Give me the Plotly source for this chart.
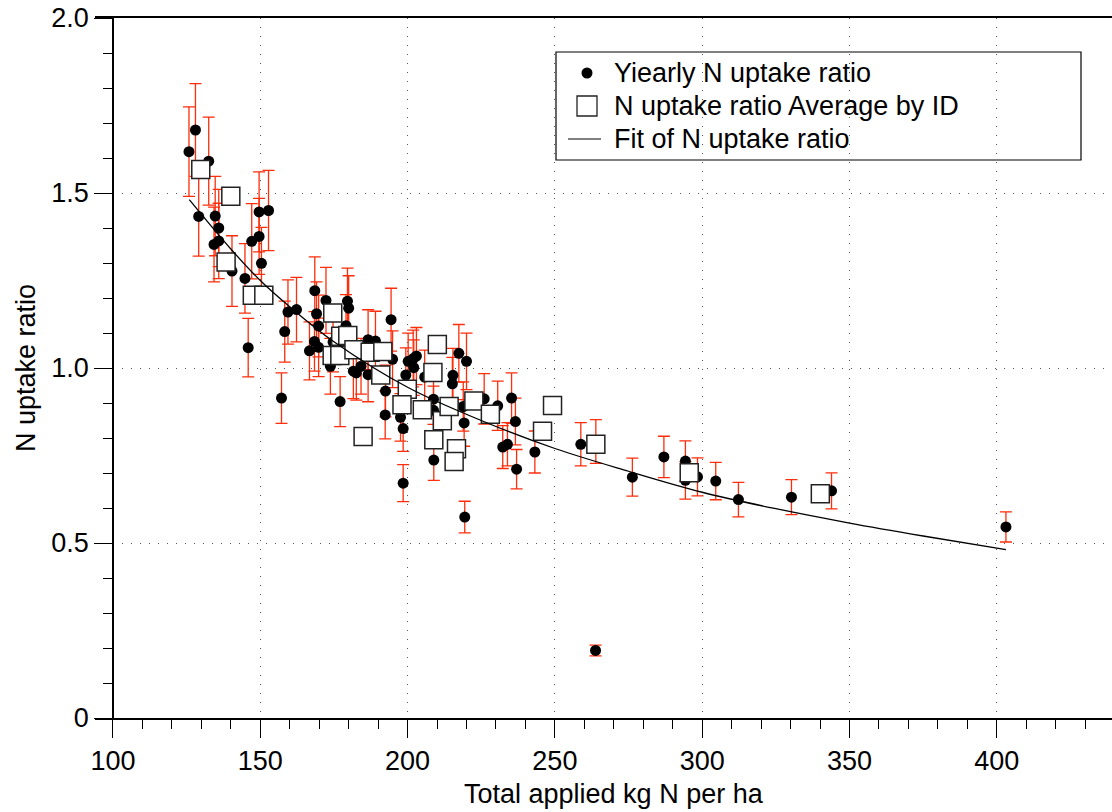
import plotly.graph_objects as go

# Yearly N uptake ratio (circles, with ~7.9% error bars)
yearly_x = [125.8, 128.0, 132.5, 129.1, 134.7, 135.9, 134.3, 135.9, 140.4, 144.8,
            149.6, 152.8, 147.1, 149.6, 150.4, 145.9, 158.3, 159.4, 162.3, 157.2,
            168.5, 172.3, 169.1, 169.8, 168.4, 169.8, 166.7, 179.6, 180.0, 179.1,
            174.7, 173.8, 181.6, 182.6, 184.2, 186.6, 177.1, 194.4, 194.9, 189.1,
            186.6, 192.5, 192.4, 197.6, 198.5, 198.5, 199.4, 200.2, 201.9, 203.0,
            202.1, 205.8, 208.8, 208.8, 208.9, 215.4, 215.2, 217.4, 220.0, 219.2,
            219.4, 218.9, 226.0, 230.6, 235.3, 236.6, 232.3, 233.9, 237.0, 243.2,
            258.8, 263.9, 263.8, 276.3, 287.0, 294.3, 294.3, 298.4, 304.6, 312.3,
            330.3, 343.9, 403.1]
yearly_y = [1.618, 1.680, 1.591, 1.433, 1.434, 1.400, 1.353, 1.363, 1.277, 1.256,
            1.446, 1.450, 1.362, 1.376, 1.299, 1.058, 1.104, 1.160, 1.167, 0.914,
            1.221, 1.193, 1.155, 1.120, 1.076, 1.059, 1.049, 1.191, 1.171, 1.121,
            1.074, 1.005, 0.991, 0.986, 1.005, 0.981, 0.904, 1.138, 1.025, 1.077,
            1.081, 0.934, 0.866, 0.859, 0.827, 0.671, 0.980, 1.019, 1.027, 1.034,
            1.001, 0.974, 0.911, 0.879, 0.737, 0.979, 0.955, 1.042, 1.019, 0.843,
            0.574, 0.890, 0.912, 0.892, 0.914, 0.847, 0.774, 0.782, 0.711, 0.760,
            0.782, 0.790, 0.193, 0.688, 0.746, 0.734, 0.679, 0.689, 0.677, 0.624,
            0.631, 0.649, 0.546]
error_percent = 7.9

# Average by ID (open squares)
avg_x = [129.8, 140.0, 138.4, 147.3, 151.2, 174.6, 177.3, 179.7, 174.4, 177.0,
         181.8, 187.3, 191.6, 190.9, 184.9, 199.9, 198.1, 205.0, 208.6, 210.1,
         211.8, 214.1, 208.9, 216.6, 215.8, 222.5, 228.1, 245.8, 249.2, 263.9,
         295.6, 340.1]
avg_y = [1.567, 1.491, 1.303, 1.208, 1.208, 1.157, 1.091, 1.093, 1.036, 1.036,
         1.052, 1.045, 1.047, 0.980, 0.804, 0.939, 0.895, 0.881, 0.987, 1.067,
         0.849, 0.890, 0.795, 0.769, 0.733, 0.906, 0.868, 0.819, 0.893, 0.782,
         0.701, 0.641]

# Fit curve
fit_x = [125.9, 140, 150, 160, 175, 200, 225, 250, 275, 300, 325, 350, 375, 403.1]
fit_y = [1.481, 1.340, 1.250, 1.175, 1.075, 0.945, 0.850, 0.770, 0.705, 0.645,
         0.598, 0.557, 0.520, 0.481]

series_names = ["Yiearly N uptake ratio", "N uptake ratio Average by ID",
                "Fit of N uptake ratio"]

x_tickvals = [100, 150, 200, 250, 300, 350, 400]
x_ticktext = ["100", "150", "200", "250", "300", "350", "400"]
y_tickvals = [0, 0.5, 1.0, 1.5, 2.0]
y_ticktext = ["0", "0.5", "1.0", "1.5", "2.0"]

FONT = "Liberation Sans, Arial, Helvetica, sans-serif"
FS = 27
XMIN, XMAX = 93.9, 439.1
W, H = 1112, 812
ML, MR, MT, MB = 95, 0, 18, 94
PW, PH = W - ML - MR, H - MT - MB


def px(xp):
    return (xp - ML) / PW


def py(yp):
    return 1 - (yp - MT) / PH


fig = go.Figure()
fig.add_trace(go.Scatter(
    x=yearly_x, y=yearly_y, mode="markers", name=series_names[0],
    marker=dict(symbol="circle", size=11, color="black"),
    error_y=dict(type="percent", value=error_percent, color="rgb(255,45,10)",
                 thickness=1.3, width=6),
))
fig.add_trace(go.Scatter(
    x=avg_x, y=avg_y, mode="markers", name=series_names[1],
    marker=dict(symbol="square", size=18, color="white",
                line=dict(color="#222", width=1.5)),
))
fig.add_trace(go.Scatter(
    x=fit_x, y=fit_y, mode="lines", name=series_names[2],
    line=dict(color="black", width=1.3, shape="spline"),
))

# legend drawn by hand (box, symbols, labels) to match the compact spacing
box_l, box_t, box_r, box_b = 556, 52, 1081, 160
row_y = [73, 106, 139]
sym_x = 587
text_x = 612
shapes = [
    dict(type="rect", xref="paper", yref="paper",
         x0=px(box_l), x1=px(box_r), y0=py(box_b), y1=py(box_t),
         line=dict(color="black", width=1.2), fillcolor="rgba(0,0,0,0)",
         layer="above"),
    dict(type="circle", xref="paper", yref="paper",
         x0=px(sym_x - 5.5), x1=px(sym_x + 5.5),
         y0=py(row_y[0] + 5.5), y1=py(row_y[0] - 5.5),
         line=dict(color="black", width=0), fillcolor="black", layer="above"),
    dict(type="rect", xref="paper", yref="paper",
         x0=px(sym_x - 10), x1=px(sym_x + 10),
         y0=py(row_y[1] + 10), y1=py(row_y[1] - 10),
         line=dict(color="#222", width=1.3), fillcolor="white", layer="above"),
    dict(type="line", xref="paper", yref="paper",
         x0=px(568), x1=px(601), y0=py(row_y[2]), y1=py(row_y[2]),
         line=dict(color="black", width=1.2), layer="above"),
]
annotations = [
    dict(text="Total applied kg N per ha", xref="paper", yref="paper",
         x=px(614), y=py(794), xanchor="center", yanchor="middle",
         showarrow=False, font=dict(size=FS)),
    dict(text="N uptake ratio", xref="paper", yref="paper",
         x=px(26), y=0.5, xanchor="center", yanchor="middle",
         textangle=-90, showarrow=False, font=dict(size=FS)),
]
for name, ry in zip(series_names, row_y):
    annotations.append(dict(text=name, xref="paper", yref="paper",
                            x=px(text_x), y=py(ry), xanchor="left",
                            yanchor="middle", showarrow=False,
                            font=dict(size=FS)))

fig.update_layout(
    width=W, height=H,
    margin=dict(l=ML, r=MR, t=MT, b=MB),
    paper_bgcolor="white", plot_bgcolor="white",
    font=dict(family=FONT, size=FS, color="black"),
    showlegend=False,
    xaxis=dict(range=[XMIN, XMAX], tickvals=x_tickvals, ticktext=x_ticktext,
               ticks="outside", ticklen=18, tickwidth=1.3, tickcolor="black",
               showline=True, linecolor="black", linewidth=1.5, mirror=True,
               showgrid=True, gridcolor="#555", gridwidth=1, griddash="1px,8px",
               zeroline=False,
               minor=dict(dtick=10, tick0=100, ticks="outside", ticklen=9,
                          tickwidth=1.2, tickcolor="black", showgrid=False)),
    yaxis=dict(range=[0, 2], tickvals=y_tickvals, ticktext=y_ticktext,
               anchor="free", position=(100 - XMIN) / (XMAX - XMIN),
               ticks="outside", ticklen=18, tickwidth=1.3, tickcolor="black",
               showline=True, linecolor="black", linewidth=1.5,
               showgrid=True, gridcolor="#555", gridwidth=1, griddash="1px,8px",
               zeroline=False,
               minor=dict(dtick=0.1, tick0=0, ticks="outside", ticklen=9,
                          tickwidth=1.2, tickcolor="black", showgrid=False)),
    shapes=shapes,
    annotations=annotations,
)

fig.write_html("out.html")
